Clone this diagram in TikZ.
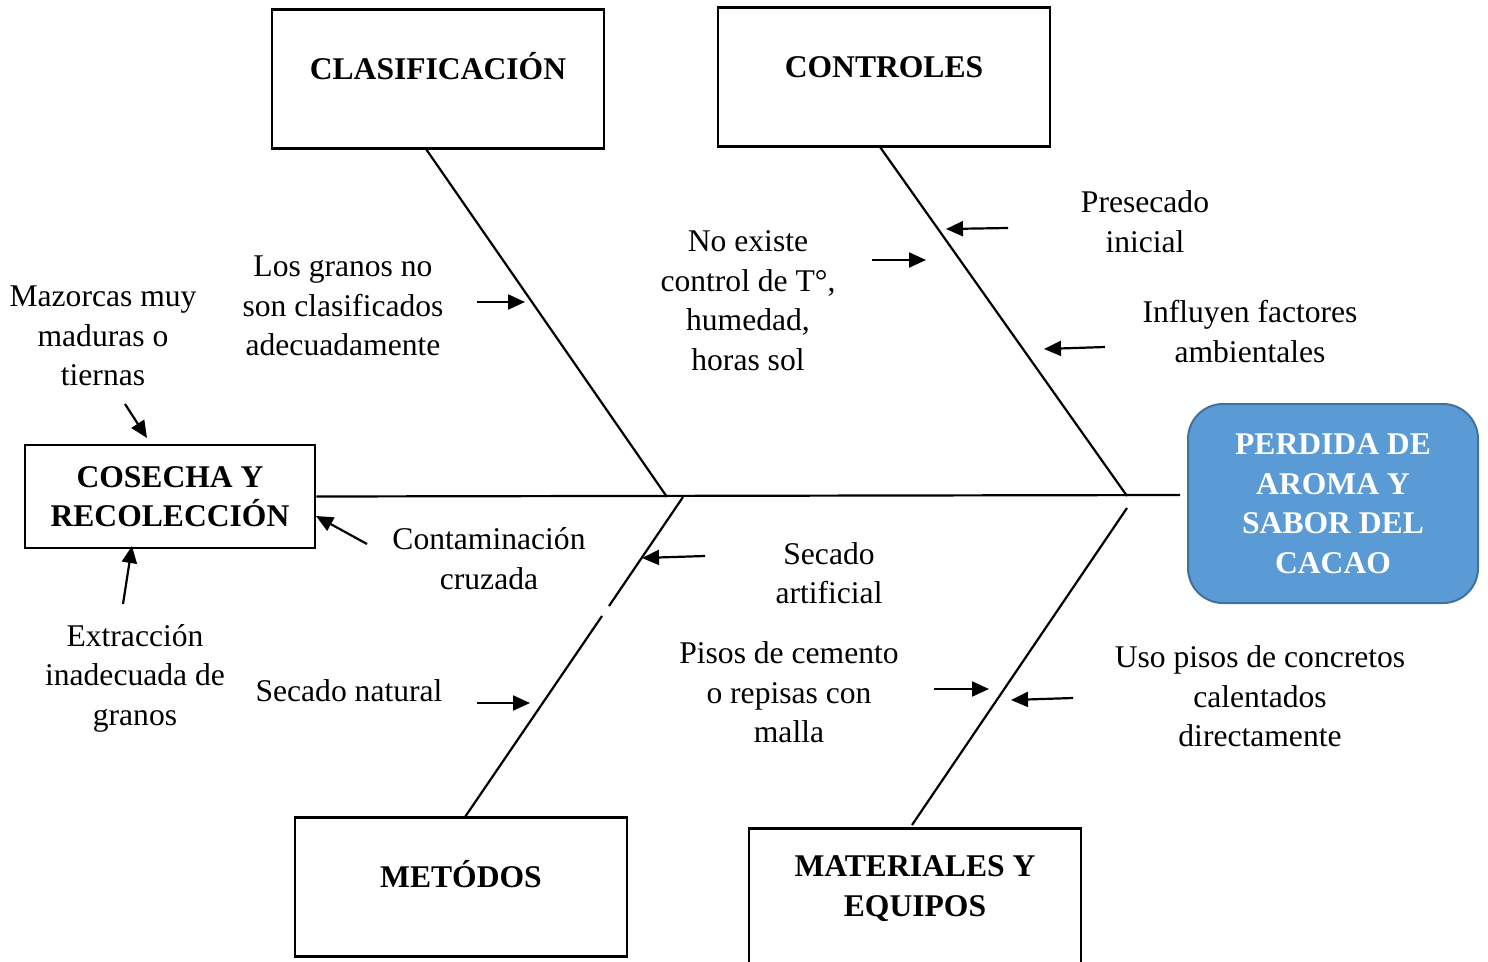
\documentclass[tikz,border=0pt]{standalone}
\usepackage{fontspec}
\setmainfont{Liberation Serif}
\usetikzlibrary{arrows.meta}
\definecolor{headfill}{RGB}{91,155,213}
\definecolor{headline}{RGB}{65,113,156}
\newcommand{\bodyfont}{\fontsize{31.6}{39.5}\selectfont}
\tikzset{
  causebox/.style={draw, line width=2.5pt, minimum width=332pt, minimum height=139pt, inner sep=0pt},
  boxtext/.style={font=\bodyfont\bfseries, align=center, inner sep=0pt},
  note/.style={align=center, inner sep=0pt},
  bone/.style={line width=2.2pt},
  cause/.style={line width=2.2pt, -{Triangle[length=17pt,width=15pt]}},
}
\begin{document}
\begin{tikzpicture}[x=1pt,y=-1pt,font=\bodyfont]
    \useasboundingbox (0,0) rectangle (1488,961);

    % boxes
    \node[causebox] (clasif) at (438,79) {};
    \node[boxtext, anchor=base] (clasiftxt) at (438,79) {CLASIFICACIÓN};
    \node[causebox] (control) at (884,77) {};
    \node[boxtext, anchor=base] (controltxt) at (884,77) {CONTROLES};
    \node[causebox] (metodo) at (461,887) {};
    \node[boxtext, anchor=base] (metodotxt) at (461,887) {METÓDOS};
    \node[causebox, minimum height=170pt, anchor=north] (material) at (915,827) {};
    \node[boxtext] (materialtxt) at (915,888.5) {MATERIALES Y\\EQUIPOS};
    \node[draw, line width=2.5pt, minimum width=290pt, minimum height=103pt, inner sep=0pt,
          boxtext] (cosecha) at (170,496.5) {COSECHA Y\\RECOLECCIÓN};
    \node[draw=headline, fill=headfill, line width=2pt, rounded corners=35pt,
          minimum width=290pt, minimum height=199pt, inner sep=0pt,
          boxtext, text=white] (head) at (1333,503.5) {PERDIDA DE\\AROMA Y\\SABOR DEL\\CACAO};

    % spine and bones
    \coordinate (spineEnd) at (1180,495);
    \coordinate (ulTop) at (426,149);
    \coordinate (ulFoot) at (667,497);
    \coordinate (urTop) at (880,147);
    \coordinate (urFoot) at (1127,496);
    \coordinate (llFoot) at (683,497);
    \coordinate (llGapA) at (609,606);
    \coordinate (llGapB) at (602,616);
    \coordinate (llEnd) at (465,817);
    \coordinate (lrFoot) at (1127,508);
    \coordinate (lrEnd) at (912,825);
    \draw[bone] (cosecha.east) -- (spineEnd);
    \draw[bone] (ulTop) -- (ulFoot);
    \draw[bone] (urTop) -- (urFoot);
    \draw[bone] (llFoot) -- (llGapA);
    \draw[bone] (llGapB) -- (llEnd);
    \draw[bone] (lrFoot) -- (lrEnd);

    % causes
    \node[note] (mazorcas) at (103,336) {Mazorcas muy\\maduras o\\tiernas};
    \node[note] (granos) at (343,306) {Los granos no\\son clasificados\\adecuadamente};
    \node[note] (noexiste) at (748,300.5) {No existe\\control de T°,\\humedad,\\horas sol};
    \node[note] (presecado) at (1145,221.5) {Presecado\\inicial};
    \node[note] (influyen) at (1250,331.5) {Influyen factores\\ambientales};
    \node[note] (contamin) at (489,558.5) {Contaminación\\cruzada};
    \node[note] (extraccion) at (135,678) {Extracción\\inadecuada de\\granos};
    \node[note] (secnat) at (349,691) {Secado natural};
    \node[note] (secart) at (829,573) {Secado\\artificial};
    \node[note] (pisos) at (789,692.5) {Pisos de cemento\\o repisas con\\malla};
    \node[note] (usopisos) at (1260,696.5) {Uso pisos de concretos\\calentados\\directamente};

    % arrows
    \coordinate (mazorcasA) at (125,404);  \coordinate (mazorcasB) at (147,438);
    \coordinate (granosA) at (477,302);    \coordinate (granosB) at (525,302);
    \coordinate (noexisteA) at (872,260);  \coordinate (noexisteB) at (926,260);
    \coordinate (presecadoA) at (1008,228); \coordinate (presecadoB) at (946,229);
    \coordinate (influyenA) at (1105,347); \coordinate (influyenB) at (1044,349);
    \coordinate (contaminA) at (367,544);  \coordinate (contaminB) at (316,516);
    \coordinate (extraccionA) at (123,604); \coordinate (extraccionB) at (132,546);
    \coordinate (secartA) at (705,556);    \coordinate (secartB) at (642,558);
    \coordinate (secnatA) at (477,703);    \coordinate (secnatB) at (530,703);
    \coordinate (pisosA) at (934,689);     \coordinate (pisosB) at (989,689);
    \coordinate (usopisosA) at (1073,698); \coordinate (usopisosB) at (1011,700);
    \draw[cause] (mazorcasA) -- (mazorcasB);
    \draw[cause] (granosA) -- (granosB);
    \draw[cause] (noexisteA) -- (noexisteB);
    \draw[cause] (presecadoA) -- (presecadoB);
    \draw[cause] (influyenA) -- (influyenB);
    \draw[cause] (contaminA) -- (contaminB);
    \draw[cause] (extraccionA) -- (extraccionB);
    \draw[cause] (secartA) -- (secartB);
    \draw[cause] (secnatA) -- (secnatB);
    \draw[cause] (pisosA) -- (pisosB);
    \draw[cause] (usopisosA) -- (usopisosB);

\end{tikzpicture}
\end{document}
